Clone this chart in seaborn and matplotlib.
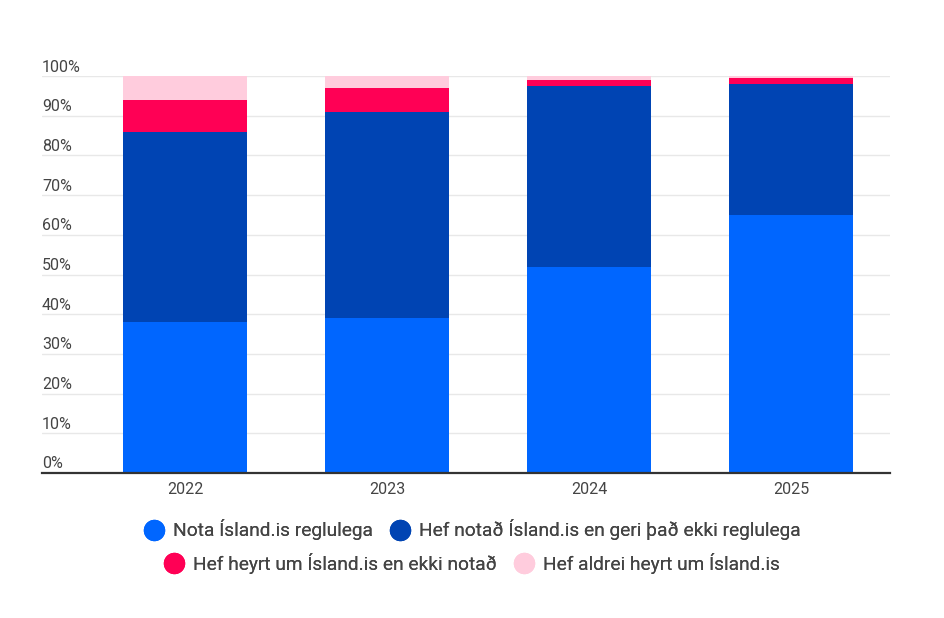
import numpy as np
import pandas as pd
import matplotlib
matplotlib.use("Agg")
import matplotlib.pyplot as plt
import matplotlib.transforms as mtransforms
from matplotlib.lines import Line2D
import seaborn as sns

years = ["2022", "2023", "2024", "2025"]
series_names = [
    "Nota Ísland.is reglulega",
    "Hef notað Ísland.is en geri það ekki reglulega",
    "Hef heyrt um Ísland.is en ekki notað",
    "Hef aldrei heyrt um Ísland.is",
]
nota = [38, 39, 52, 65]
hef_notad = [48, 52, 45.5, 33]
hef_heyrt = [8, 6, 1.5, 1.5]
aldrei = [6, 3, 1, 0.5]
colors = ["#0066FF", "#0044B3", "#FF0055", "#FFCCDD"]
yticks = [0, 10, 20, 30, 40, 50, 60, 70, 80, 90, 100]
ytick_labels = [f"{v}%" for v in yticks]

sns.set_theme(style="white")
plt.rcParams["font.family"] = ["Roboto", "DejaVu Sans"]

W, H = 944, 618
fig = plt.figure(figsize=(W / 100, H / 100), dpi=100)
ax = fig.add_axes([42 / W, (H - 473) / H, 848 / W, 397 / H])

layers = [nota, hef_notad, hef_heyrt, aldrei]
cum = np.cumsum(np.array(layers, dtype=float), axis=0)
df = pd.DataFrame({"year": years})
for i in range(len(layers) - 1, -1, -1):
    df["v"] = cum[i]
    sns.barplot(data=df, x="year", y="v", color=colors[i], saturation=1,
                width=124 / 202, linewidth=0, ax=ax, zorder=2)

ax.set_xlim(-143 / 202, 3 + 99 / 202)
ax.set_ylim(0, 100)
ax.set_xlabel("")
ax.set_ylabel("")
ax.set_yticks(yticks)
ax.set_yticklabels([])
ax.tick_params(axis="y", length=0)
ax.tick_params(axis="x", length=0, pad=6.3, labelsize=11.5, labelcolor="#444444")
ax.grid(axis="y", color="#e8e8e8", linewidth=1, zorder=0)
ax.set_axisbelow(True)
for s in ["top", "right", "left"]:
    ax.spines[s].set_visible(False)
ax.spines["bottom"].set_color("#333333")
ax.spines["bottom"].set_linewidth(1.6)
ax.spines["bottom"].set_zorder(3)

trans = mtransforms.offset_copy(ax.get_yaxis_transform(), fig=fig, x=0, y=1.5, units="dots")
for v, lab in zip(yticks, ytick_labels):
    ax.text(0, v, lab, transform=trans, ha="left", va="bottom", fontsize=11.5,
            color="#444444", clip_on=False)

def make_handle(c):
    return Line2D([], [], marker="o", linestyle="none", markersize=14.4,
                  markerfacecolor=c, markeredgecolor=c)

rows = [[0, 1], [2, 3]]
row_y = [530, 563]
for r, yy in zip(rows, row_y):
    leg = fig.legend([make_handle(colors[i]) for i in r], [series_names[i] for i in r],
                     loc="center", bbox_to_anchor=(0.5, 1 - yy / H), ncol=2, frameon=False,
                     fontsize=13.8, handlelength=1.1, handletextpad=0.45,
                     columnspacing=0.85, borderpad=0, borderaxespad=0)
    for t in leg.get_texts():
        t.set_color("#444444")
    fig.add_artist(leg)

fig.savefig("out.png", dpi=100, facecolor="white")
